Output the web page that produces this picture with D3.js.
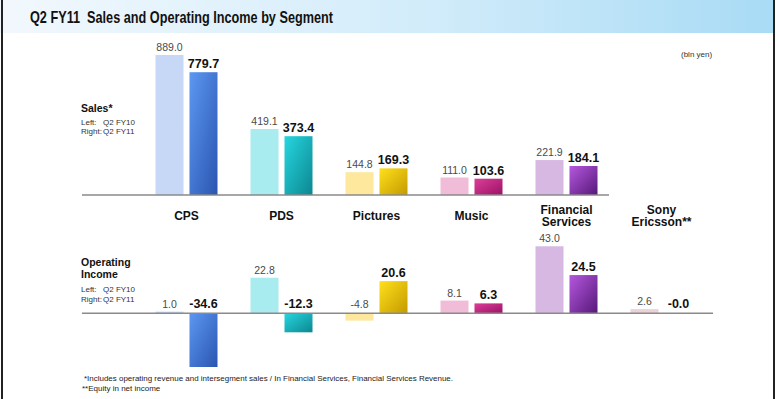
<!DOCTYPE html>
<html>
<head>
<meta charset="utf-8">
<script src="https://cdn.jsdelivr.net/npm/d3@7"></script>
<style>
  html, body { margin: 0; padding: 0; background: #fff; }
  svg { display: block; font-family: "Liberation Sans", Arial, sans-serif; }
</style>
</head>
<body>
<div id="chart"></div>
<script>
// data
const categories = ["CPS", "PDS", "Pictures", "Music", "Financial Services", "Sony Ericsson**"];
const series = ["FY10", "FY11"];
const salesFY10 = [889.0, 419.1, 144.8, 111.0, 221.9, null];
const salesFY11 = [779.7, 373.4, 169.3, 103.6, 184.1, null];
const opFY10 = [1.0, 22.8, -4.8, 8.1, 43.0, 2.6];
const opFY11 = [-34.6, -12.3, 20.6, 6.3, 24.5, -0.0];

// colours: light for FY10, gradient (top, bottom) for FY11
const lightColors = ["#c6d8f6", "#a9ecf0", "#fde89e", "#f1bcd8", "#d7b8e3", "#ead2d6"];
const darkColors = [
  ["#5c98f2", "#2a55b0"],
  ["#26d6e0", "#0c8790"],
  ["#ffe01c", "#c49a00"],
  ["#dc3e98", "#9c1266"],
  ["#b558de", "#561879"],
  ["#d9a9b5", "#a07080"]
];

const width = 780, height = 399;

const svg = d3.select("#chart").append("svg")
  .attr("width", width)
  .attr("height", height);

const defs = svg.append("defs");

const hdr = defs.append("linearGradient").attr("id", "hdr")
  .attr("x1", "0").attr("x2", "1").attr("y1", "0").attr("y2", "0");
hdr.append("stop").attr("offset", "0").attr("stop-color", "#f2f8fd");
hdr.append("stop").attr("offset", "0.55").attr("stop-color", "#d2ecfa");
hdr.append("stop").attr("offset", "1").attr("stop-color", "#a8dbf5");

darkColors.forEach((c, i) => {
  const g = defs.append("linearGradient").attr("id", "g" + i)
    .attr("x1", "0").attr("y1", "0").attr("x2", "1").attr("y2", "1");
  g.append("stop").attr("offset", "0").attr("stop-color", c[0]);
  g.append("stop").attr("offset", "1").attr("stop-color", c[1]);
});

// header
svg.append("rect").attr("x", 0).attr("y", 0).attr("width", 775).attr("height", 33)
  .attr("fill", "url(#hdr)");
svg.append("text")
  .attr("x", 30).attr("y", 23)
  .attr("font-size", 17).attr("font-weight", "bold").attr("fill", "#111")
  .attr("textLength", 303).attr("lengthAdjust", "spacingAndGlyphs")
  .attr("xml:space", "preserve")
  .text("Q2 FY11  Sales and Operating Income by Segment");

// frame
svg.append("line").attr("x1", 2).attr("x2", 2).attr("y1", 0).attr("y2", height)
  .attr("stroke", "#222").attr("stroke-width", 2);
svg.append("line").attr("x1", 774).attr("x2", 774).attr("y1", 0).attr("y2", height)
  .attr("stroke", "#222").attr("stroke-width", 2);

// scales
const x = d3.scaleBand().domain(categories).range([139, 709]).padding(0);
const xs = d3.scaleBand().domain(series).range([-31, 31]).paddingInner(0.176).paddingOuter(0);
const ySales = d3.scaleLinear().domain([0, 889]).range([195, 55]);
const yOp = d3.scaleLinear().domain([-40, 50]).range([375.4, 235.4]);

const fmt = v => (Object.is(v, -0) ? "-0.0" : v.toFixed(1));

function drawPanel(g, y, v10, v11, x2) {
  const rows = categories.map((c, i) => ({ c, i, v10: v10[i], v11: v11[i] }));
  const cx = d => x(d.c) + x.bandwidth() / 2;

  // FY10 bars
  g.selectAll("rect.a").data(rows.filter(d => d.v10 != null)).enter().append("rect")
    .attr("x", d => cx(d) + xs("FY10"))
    .attr("y", d => Math.min(y(d.v10), y(0)))
    .attr("width", xs.bandwidth())
    .attr("height", d => Math.abs(y(d.v10) - y(0)))
    .attr("fill", d => lightColors[d.i]);

  // FY11 bars
  g.selectAll("rect.b").data(rows.filter(d => d.v11 != null)).enter().append("rect")
    .attr("x", d => cx(d) + xs("FY11"))
    .attr("y", d => Math.min(y(d.v11), y(0)))
    .attr("width", xs.bandwidth())
    .attr("height", d => Math.abs(y(d.v11) - y(0)))
    .attr("fill", d => "url(#g" + d.i + ")");

  // baseline
  g.append("line")
    .attr("x1", 82).attr("x2", x2)
    .attr("y1", y(0)).attr("y2", y(0))
    .attr("stroke", "#8a8a8a").attr("stroke-width", 1.5);

  // labels
  g.selectAll("text.a").data(rows.filter(d => d.v10 != null)).enter().append("text")
    .attr("x", d => cx(d) + xs("FY10") + xs.bandwidth() / 2)
    .attr("y", d => (d.v10 >= 0 ? y(d.v10) - 4 : y(0) - 5))
    .attr("text-anchor", "middle")
    .attr("font-size", 10.5).attr("fill", "#4a4a4a")
    .text(d => fmt(d.v10));

  g.selectAll("text.b").data(rows.filter(d => d.v11 != null)).enter().append("text")
    .attr("x", d => cx(d) + xs("FY11") + xs.bandwidth() / 2)
    .attr("y", d => (d.v11 > 0 ? y(d.v11) - 4 : y(0) - 5))
    .attr("text-anchor", "middle")
    .attr("font-size", 12.5).attr("font-weight", "bold").attr("fill", "#111")
    .text(d => fmt(d.v11));
}

drawPanel(svg.append("g"), ySales, salesFY10, salesFY11, 609);
drawPanel(svg.append("g"), yOp, opFY10, opFY11, 713);

// category labels
categories.forEach(c => {
  const words = c.split(" ");
  const t = svg.append("text")
    .attr("text-anchor", "middle")
    .attr("font-size", 12).attr("font-weight", "bold").attr("fill", "#111");
  const cx = x(c) + x.bandwidth() / 2;
  if (words.length === 1) {
    t.append("tspan").attr("x", cx).attr("y", 220).text(c);
  } else {
    words.forEach((w, k) => t.append("tspan").attr("x", cx).attr("y", 213.5 + k * 12.5).text(w));
  }
});

// side labels
function sideLabel(lines, y0, legendY) {
  const t = svg.append("text").attr("font-size", 10.5).attr("font-weight", "bold").attr("fill", "#111");
  lines.forEach((l, k) => t.append("tspan").attr("x", 81).attr("y", y0 + k * 11.5).text(l));
  [["Left:", "Q2 FY10"], ["Right:", "Q2 FY11"]].forEach((p, k) => {
    const s = svg.append("text").attr("font-size", 8).attr("fill", "#333").attr("y", legendY + k * 9.5);
    s.append("tspan").attr("x", 81).text(p[0]);
    s.append("tspan").attr("x", 103).text(p[1]);
  });
}
sideLabel(["Sales*"], 112, 124.5);
sideLabel(["Operating", "Income"], 266, 292);

svg.append("text").attr("x", 681).attr("y", 57)
  .attr("font-size", 8).attr("fill", "#333").text("(bln yen)");

// footnotes
svg.append("text").attr("x", 84).attr("y", 381)
  .attr("font-size", 8).attr("fill", "#222")
  .attr("textLength", 369).attr("lengthAdjust", "spacingAndGlyphs")
  .text("*Includes operating revenue and intersegment sales / In Financial Services, Financial Services Revenue.");
svg.append("text").attr("x", 82).attr("y", 391)
  .attr("font-size", 8).attr("fill", "#222")
  .text("**Equity in net income");
</script>
</body>
</html>
